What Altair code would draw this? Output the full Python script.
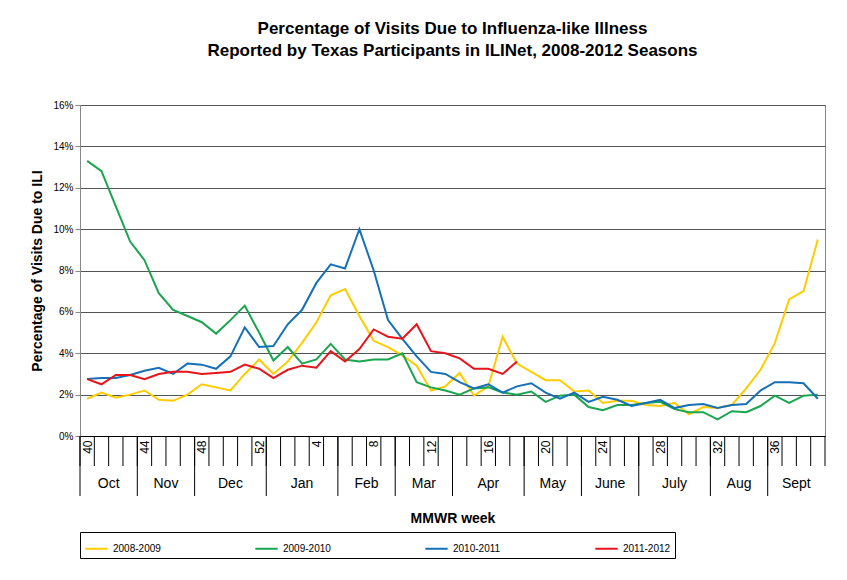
import altair as alt
import pandas as pd

weeks = [40, 41, 42, 43, 44, 45, 46, 47, 48, 49, 50, 51, 52] + list(range(1, 40))

s2008 = [1.8, 2.1, 1.85, 2.0, 2.2, 1.75, 1.7, 2.0, 2.5, 2.35, 2.2, 3.0, 3.7,
         3.0, 3.6, 4.5, 5.5, 6.8, 7.1, 5.8, 4.6, 4.3, 3.9, 3.4, 2.2, 2.4, 3.05,
         1.95, 2.4, 4.8, 3.5, 3.1, 2.7, 2.7, 2.15, 2.2, 1.6, 1.7, 1.7, 1.5, 1.45,
         1.6, 1.05, 1.4, 1.35, 1.5, 2.3, 3.2, 4.5, 6.6, 7.0, 9.5]
s2009 = [13.3, 12.8, 11.1, 9.4, 8.5, 6.9, 6.1, 5.8, 5.5, 4.95, 5.6, 6.3, 5.0,
         3.65, 4.3, 3.5, 3.7, 4.45, 3.7, 3.6, 3.7, 3.7, 4.0, 2.6, 2.35, 2.2, 2.0,
         2.3, 2.35, 2.1, 2.0, 2.15, 1.65, 1.95, 2.0, 1.4, 1.25, 1.5, 1.5, 1.6, 1.65,
         1.3, 1.15, 1.15, 0.8, 1.2, 1.15, 1.45, 1.95, 1.6, 1.95, 2.0]
s2010 = [2.75, 2.8, 2.8, 2.95, 3.15, 3.3, 3.0, 3.5, 3.45, 3.25, 3.85, 5.25, 4.3,
         4.35, 5.4, 6.1, 7.4, 8.3, 8.1, 10.0, 8.0, 5.6, 4.7, 3.85, 3.1, 3.0, 2.6,
         2.3, 2.5, 2.1, 2.4, 2.55, 2.1, 1.8, 2.1, 1.65, 1.9, 1.75, 1.45, 1.6, 1.75,
         1.35, 1.5, 1.55, 1.35, 1.5, 1.55, 2.2, 2.6, 2.6, 2.55, 1.8]
s2011 = [2.75, 2.5, 2.95, 2.95, 2.75, 3.0, 3.1, 3.1, 3.0, 3.05, 3.1, 3.45, 3.25,
         2.8, 3.2, 3.4, 3.3, 4.1, 3.6, 4.2, 5.15, 4.8, 4.7, 5.4, 4.1, 4.0, 3.75,
         3.25, 3.25, 3.0, 3.6]

months = ["Oct", "Nov", "Dec", "Jan", "Feb", "Mar", "Apr", "May", "June", "July", "Aug", "Sept"]
month_len = [4, 4, 5, 5, 4, 4, 5, 4, 4, 5, 4, 4]

seasons = ["2008-2009", "2009-2010", "2010-2011", "2011-2012"]
colors = ["#FFCC00", "#1AA550", "#1570B8", "#E8141B"]

rows = []
for name, vals in zip(seasons, [s2008, s2009, s2010, s2011]):
    for i, v in enumerate(vals):
        rows.append({"idx": i, "week": weeks[i], "season": name, "pct": v})
df = pd.DataFrame(rows)

mrows = []
start = 0
for m, n in zip(months, month_len):
    mrows.append({"month": m, "center": start + (n - 1) / 2, "edge": start - 0.5})
    start += n
mdf = pd.DataFrame(mrows)
cells = pd.DataFrame({"edge": [i - 0.5 for i in range(len(weeks) + 1)]})

W, H = 745, 331
font = "Liberation Sans"
label_expr = "[" + ",".join("'%d'" % w for w in weeks) + "][datum.value]"

xs = alt.Scale(domain=[-0.5, len(weeks) - 0.5], nice=False, zero=False)

lines = alt.Chart(df).mark_line(strokeWidth=2).encode(
    x=alt.X("idx:Q", scale=xs, title="MMWR week",
            axis=alt.Axis(values=list(range(len(weeks))), labelExpr=label_expr,
                          labelAngle=270, labelAlign="right", labelBaseline="middle",
                          labelOverlap=False, labelBound=False, labelFlush=False,
                          ticks=False, grid=False, labelPadding=4, labelFontSize=12,
                          labelColor="black", domainColor="black",
                          titlePadding=58, titleFontSize=14, titleFontWeight="bold")),
    y=alt.Y("pct:Q", scale=alt.Scale(domain=[0, 16]), title="Percentage of Visits Due to ILI",
            axis=alt.Axis(values=list(range(0, 17, 2)), labelExpr="datum.value + '%'",
                          gridColor="#555", gridWidth=1, domainColor="#888", tickColor="#888",
                          labelFontSize=10, labelColor="black", titleFontSize=14,
                          titleFontWeight="bold", titlePadding=8)),
    color=alt.Color("season:N", scale=alt.Scale(domain=seasons, range=colors),
                    legend=alt.Legend(title=None, orient="bottom", direction="horizontal",
                                      symbolType="stroke", symbolSize=500, symbolStrokeWidth=2,
                                      labelFontSize=10, columnPadding=90, strokeColor="black",
                                      padding=4, offset=6)),
    detail="season:N",
)

cell_rules = alt.Chart(cells).mark_rule(color="black", strokeWidth=1).encode(
    x=alt.X("edge:Q", scale=xs), y=alt.value(H), y2=alt.value(H + 30))
month_rules = alt.Chart(mdf).mark_rule(color="black", strokeWidth=1).encode(
    x=alt.X("edge:Q", scale=xs), y=alt.value(H), y2=alt.value(H + 60))
month_text = alt.Chart(mdf).mark_text(fontSize=14, font=font, baseline="middle").encode(
    x=alt.X("center:Q", scale=xs), y=alt.value(H + 48), text="month:N")

chart = alt.layer(lines, cell_rules, month_rules, month_text).properties(
    width=W, height=H,
    padding={"left": 22, "top": 12, "right": 10, "bottom": 5},
    title=alt.Title(["Percentage of Visits Due to Influenza-like Illness",
                     "Reported by Texas Participants in ILINet, 2008-2012 Seasons"],
                    fontSize=17, fontWeight="bold", font=font, offset=40, lineHeight=22,
                    anchor="middle"),
).configure(font=font).configure_view(stroke="#888")

chart.save("out.html", embed_options={"renderer": "svg", "actions": False})
